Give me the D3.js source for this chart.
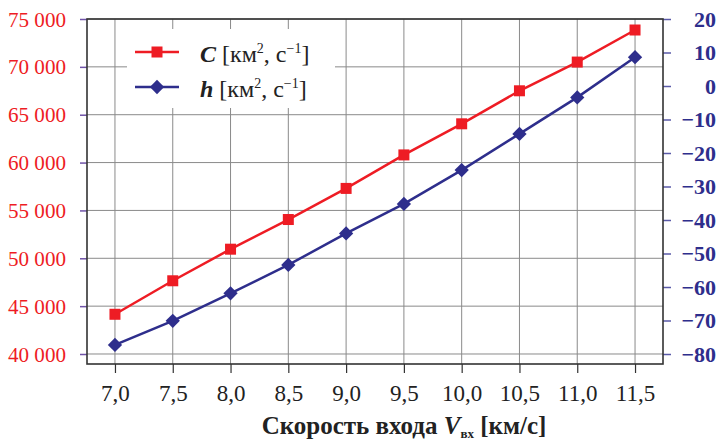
<!DOCTYPE html>
<html>
<head>
<meta charset="utf-8">
<script src="https://cdn.jsdelivr.net/npm/d3@7"></script>
<style>
  body { margin: 0; background: #fff; }
  #chart { width: 718px; height: 441px; }
  svg text { font-family: "Liberation Serif", "DejaVu Serif", serif !important; }
  .domain { display: none; }
</style>
</head>
<body>
<div id="chart"></div>
<script>
// values
const speeds = [7.0, 7.5, 8.0, 8.5, 9.0, 9.5, 10.0, 10.5, 11.0, 11.5];
const cValues = [44150, 47650, 50950, 54050, 57300, 60800, 64050, 67500, 70500, 73850];
const hValues = [-77.3, -70.1, -61.9, -53.4, -44.0, -35.2, -25.1, -14.3, -3.4, 8.6];
const leftTicks = [40000, 45000, 50000, 55000, 60000, 65000, 70000, 75000];
const rightTicks = [-80, -70, -60, -50, -40, -30, -20, -10, 0, 10, 20];

const red = "#ee1c24";
const navy = "#2e2e8c";
const serif = '"Liberation Serif", "DejaVu Serif", serif';

class DualChart {
    constructor(sel){
        this.svg = d3.select(sel).append("svg").attr("width", 718).attr("height", 441)
            .attr("font-family", serif);
        this.box = {left: 87, right: 663, top: 19, bottom: 364};
    }

    build_axis(){
        const b = this.box;
        this.x = d3.scaleLinear().domain([6.758, 11.742]).range([b.left, b.right]);
        this.yL = d3.scaleLinear().domain([38955, 75000]).range([b.bottom, b.top]);
        this.yR = d3.scaleLinear().domain([-82.985, 20]).range([b.bottom, b.top]);

        // grid
        const grid = this.svg.append("g").attr("stroke", "#8a8a8a").attr("stroke-width", 1);
        grid.selectAll(".gx").data(speeds).enter().append("line")
            .attr("x1", d => this.x(d)).attr("x2", d => this.x(d))
            .attr("y1", b.top).attr("y2", b.bottom);
        grid.selectAll(".gy").data(leftTicks).enter().append("line")
            .attr("x1", b.left).attr("x2", b.right)
            .attr("y1", d => this.yL(d)).attr("y2", d => this.yL(d));

        // left axis
        const left = this.svg.append("g")
            .attr("transform", `translate(${b.left},0)`)
            .call(d3.axisLeft(this.yL).tickValues(leftTicks).tickSize(7).tickPadding(14)
                .tickFormat(d => d3.format(",")(d).replace(",", " ")));
        left.attr("font-family", serif);
        left.selectAll("line").attr("stroke", "#7053a8").attr("stroke-width", 1.5);
        left.selectAll("text").attr("fill", red).style("font-size", "22px")
            .style("font-family", serif)
            .attr("textLength", 58).attr("lengthAdjust", "spacingAndGlyphs");

        // right axis
        const right = this.svg.append("g")
            .attr("transform", `translate(${b.right},0)`)
            .call(d3.axisRight(this.yR).tickValues(rightTicks).tickSize(8)
                .tickFormat(d => d < 0 ? "\u2212" + Math.abs(d) : d));
        right.attr("font-family", serif);
        right.selectAll("line").attr("stroke", "#5a5aa8").attr("stroke-width", 1.5);
        right.selectAll("text").attr("fill", navy).style("font-size", "22px")
            .style("font-family", serif).style("font-weight", "bold")
            .attr("x", 716 - b.right).attr("text-anchor", "end");

        // bottom axis
        const bottom = this.svg.append("g")
            .attr("transform", `translate(0,${b.bottom})`)
            .call(d3.axisBottom(this.x).tickValues(speeds).tickSize(9).tickPadding(12)
                .tickFormat(d => d3.format(".1f")(d).replace(".", ",")));
        bottom.attr("font-family", serif);
        bottom.selectAll("line").attr("stroke", "#333").attr("stroke-width", 1.2);
        bottom.selectAll("text").attr("fill", "#222").style("font-size", "23px")
            .style("font-family", serif);

        // frame
        this.svg.append("rect")
            .attr("x", b.left).attr("y", b.top)
            .attr("width", b.right - b.left).attr("height", b.bottom - b.top)
            .attr("fill", "none").attr("stroke", "#333").attr("stroke-width", 1.6);

        // x title
        const t = this.svg.append("text")
            .attr("x", 404).attr("y", 434)
            .attr("text-anchor", "middle")
            .style("font-family", serif)
            .style("font-size", "25px").style("font-weight", "bold").attr("fill", "#222");
        t.append("tspan").text("Скорость входа ");
        t.append("tspan").style("font-style", "italic").text("V");
        t.append("tspan").attr("dy", 4).style("font-size", "13px").text("вх");
        t.append("tspan").attr("dy", -4).text(" [км/с]");
    }

    draw_lines(){
        const lineC = d3.line().x((d, i) => this.x(speeds[i])).y(d => this.yL(d));
        const lineH = d3.line().x((d, i) => this.x(speeds[i])).y(d => this.yR(d));

        this.svg.append("path").attr("d", lineC(cValues))
            .attr("fill", "none").attr("stroke", red).attr("stroke-width", 2.5);
        this.svg.append("path").attr("d", lineH(hValues))
            .attr("fill", "none").attr("stroke", navy).attr("stroke-width", 2.5);

        this.svg.selectAll(".sq").data(cValues).enter().append("rect")
            .attr("x", (d, i) => this.x(speeds[i]) - 5.5)
            .attr("y", d => this.yL(d) - 5.5)
            .attr("width", 11).attr("height", 11)
            .attr("fill", red);

        const diamond = d3.symbol().type(d3.symbolDiamond2).size(130);
        this.svg.selectAll(".dm").data(hValues).enter().append("path")
            .attr("d", diamond)
            .attr("transform", (d, i) => `translate(${this.x(speeds[i])},${this.yR(d)})`)
            .attr("fill", navy);
    }

    draw_legend(){
        const g = this.svg.append("g");
        g.append("rect").attr("x", 127).attr("y", 29).attr("width", 208).attr("height", 79)
            .attr("fill", "#fff");

        const items = [
            {name: "C", color: red, y: 52, shape: "sq"},
            {name: "h", color: navy, y: 87, shape: "dm"}
        ];
        for (const it of items){
            g.append("line").attr("x1", 135).attr("x2", 179)
                .attr("y1", it.y).attr("y2", it.y)
                .attr("stroke", it.color).attr("stroke-width", 2.5);
            if (it.shape == "sq"){
                g.append("rect").attr("x", 151.5).attr("y", it.y - 5.5)
                    .attr("width", 11).attr("height", 11).attr("fill", it.color);
            } else {
                g.append("path").attr("d", d3.symbol().type(d3.symbolDiamond2).size(130))
                    .attr("transform", `translate(157,${it.y})`).attr("fill", it.color);
            }
            const t = g.append("text").attr("x", 200).attr("y", it.y + 10)
                .style("font-family", serif)
                .style("font-size", "24px").attr("fill", "#222");
            t.append("tspan").style("font-style", "italic").style("font-weight", "bold").text(it.name);
            t.append("tspan").text(" [км");
            t.append("tspan").attr("dy", -9).style("font-size", "14px").text("2");
            t.append("tspan").attr("dy", 9).text(", с");
            t.append("tspan").attr("dy", -9).style("font-size", "14px").text("\u22121");
            t.append("tspan").attr("dy", 9).text("]");
        }
    }
}

const chart = new DualChart("#chart");
chart.build_axis();
chart.draw_lines();
chart.draw_legend();
</script>
</body>
</html>
